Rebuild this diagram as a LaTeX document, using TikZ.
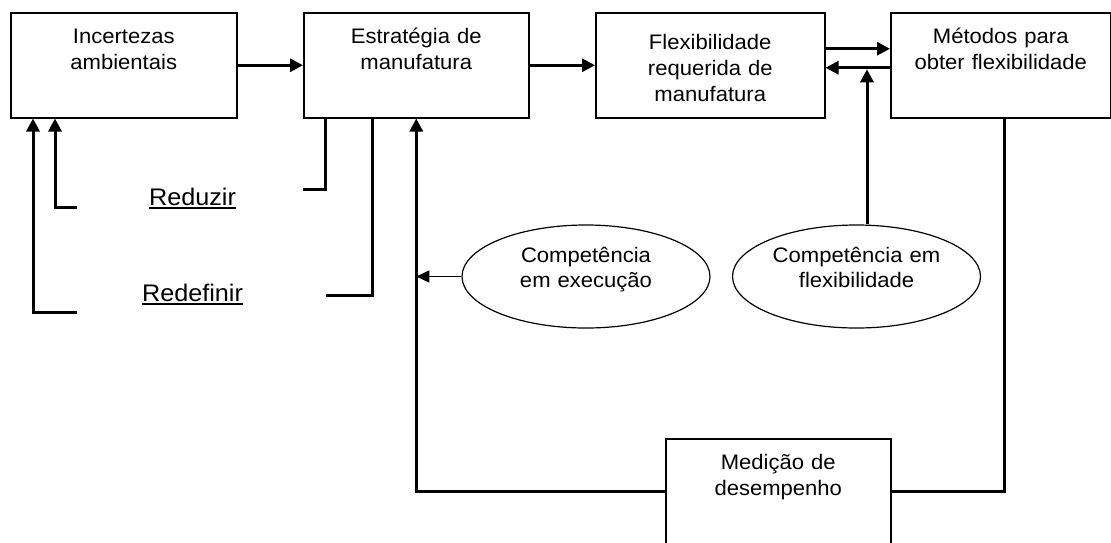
\documentclass[tikz,border=0pt]{standalone}
\usepackage{fontspec}
\setmainfont{Liberation Sans}[FakeStretch=1.05]
\usetikzlibrary{arrows.meta,shapes.geometric}

\begin{document}
\begin{tikzpicture}[x=1pt,y=-1pt]
\tikzset{
  bloco/.style={rectangle,draw,line width=1.5pt,inner sep=0pt,anchor=north west,align=center,
    text height=31pt,text depth=74pt,font=\fontsize{21}{26}\selectfont},
  elipse/.style={ellipse,draw,line width=1.2pt,minimum width=248pt,minimum height=103pt,inner sep=0pt,
    align=center,text width=172pt,text height=20pt,text depth=49pt,font=\fontsize{21}{25}\selectfont},
  rotulo/.style={inner sep=0pt,anchor=base,font=\fontsize{24}{29}\selectfont},
  seta/.style={-{Triangle[length=13pt,width=13pt]},line width=3pt},
  setafina/.style={-{Triangle[length=13pt,width=12pt]},line width=1.3pt},
  linha/.style={line width=3pt}
}
\useasboundingbox (0,0) rectangle (1111,542);
\fill[white] (0,0) rectangle (1111,542);
% blocos
\node[bloco,text width=226pt] (n_inc) at (10,12) {Incertezas\\ambientais};
\node[bloco,text width=225pt] (n_est) at (303,12) {Estratégia de\\manufatura};
\node[bloco,text width=229pt,text height=37pt,text depth=68pt] (n_flex) at (595,12) {Flexibilidade\\requerida de\\manufatura};
\node[bloco,text width=220pt] (n_met) at (890,12) {Métodos para\\obter flexibilidade};
\node[bloco,text width=225pt,text depth=75pt] (n_med) at (665,438) {Medição de\\desempenho};
\node[elipse] (n_cexe) at (586,276.5) {Competência\\em execução};
\node[elipse] (n_cflex) at (856.5,276.5) {Competência em\\flexibilidade};
\node[rotulo] (n_red) at (192.5,205) {Reduzir};
\node[rotulo] (n_redf) at (192.5,301) {Redefinir};
\draw[line width=1.5pt] ([yshift=-3pt]n_red.base west) -- ([yshift=-3pt]n_red.base east);
\draw[line width=1.5pt] ([yshift=-3pt]n_redf.base west) -- ([yshift=-3pt]n_redf.base east);
% pontas soltas
\coordinate (c_inc1) at (77,207);
\coordinate (c_inc2) at (77,312);
\coordinate (c_red) at (303,189);
\coordinate (c_redf) at (326,295);
% ligacoes
\draw[seta] (n_inc) -- (n_est);
\draw[seta] (n_est) -- (n_flex);
\draw[seta] ([yshift=16.5pt]n_flex.east) -- ([yshift=16.5pt]n_met.west);
\draw[seta] ([yshift=-2.5pt]n_met.west) -- ([yshift=-2.5pt]n_flex.east);
\draw[seta] ([xshift=10.5pt]n_cflex.north) -- ([xshift=10.5pt,yshift=-4pt]n_cflex.north |- n_flex.east);
\draw[linha] ([xshift=4pt]n_met.south) |- (n_med.east);
\draw[seta] (n_med.west) -| (n_est.south);
\draw[setafina] (n_cexe.west) -- (n_cexe.west -| n_est.south);
\draw[linha] ([xshift=22pt]n_est.south west) |- (c_red);
\draw[linha] ([xshift=69pt]n_est.south west) |- (c_redf);
\draw[seta] (c_inc1) -| ([xshift=45pt]n_inc.south west);
\draw[seta] (c_inc2) -| ([xshift=23pt]n_inc.south west);
\end{tikzpicture}
\end{document}
